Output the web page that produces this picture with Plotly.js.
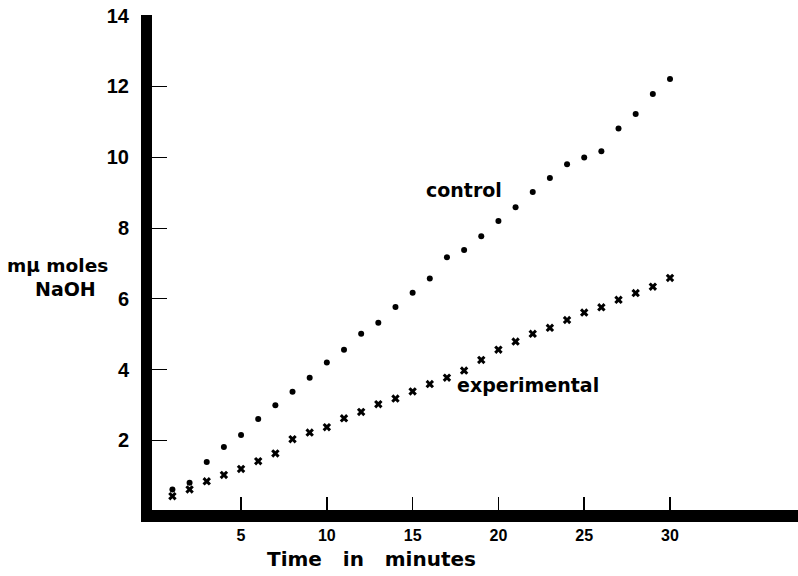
<!DOCTYPE html>
<html>
<head>
<meta charset="utf-8">
<script src="https://cdn.plot.ly/plotly-3.0.1.min.js"></script>
<style>
html, body { margin: 0; padding: 0; background: #fff; }
#chart { width: 798px; height: 576px; }
</style>
</head>
<body>
<div id="chart"></div>
<script>
// Time in minutes
var minutes = [1,2,3,4,5,6,7,8,9,10,11,12,13,14,15,16,17,18,19,20,21,22,23,24,25,26,27,28,29,30];
// m\u03bc moles NaOH
var control = [0.61,0.80,1.39,1.81,2.15,2.60,2.99,3.37,3.77,4.20,4.56,5.01,5.32,5.77,6.17,6.57,7.17,7.38,7.77,8.20,8.59,9.02,9.41,9.80,9.99,10.17,10.81,11.22,11.79,12.21];
var experimental = [0.42,0.61,0.84,1.02,1.19,1.41,1.63,2.03,2.22,2.37,2.62,2.80,3.02,3.18,3.38,3.59,3.77,3.97,4.27,4.56,4.79,5.01,5.18,5.40,5.61,5.76,5.97,6.16,6.34,6.59];
var xTicks = [5,10,15,20,25,30];
var yTicks = [2,4,6,8,10,12,14];

var textFont = {family: 'DejaVu Sans', size: 19, color: '#000', weight: 'bold'};

var traces = [
  {x: minutes, y: control, type: 'scatter', mode: 'markers', name: 'control',
   marker: {symbol: 'circle', size: 6, color: '#000'}},
  {x: minutes, y: experimental, type: 'scatter', mode: 'markers', name: 'experimental',
   marker: {symbol: 'x', size: 7.5, color: '#000'}}
];

var layout = {
  width: 798, height: 576,
  paper_bgcolor: '#fff', plot_bgcolor: '#fff',
  showlegend: false,
  margin: {l: 152, r: 0, t: 15, b: 66},
  xaxis: {
    range: [-0.19, 37.46], showgrid: false, zeroline: false,
    showline: true, linewidth: 12, linecolor: '#000',
    ticks: 'inside', ticklen: 13, tickwidth: 1.5, tickcolor: '#000',
    tickvals: xTicks, ticktext: xTicks.map(String),
    tickfont: {family: 'Liberation Sans', size: 16, color: '#000', weight: 'bold'}
  },
  yaxis: {
    range: [0.03, 14.02], showgrid: false, zeroline: false,
    showline: true, linewidth: 11, linecolor: '#000',
    ticks: 'inside', ticklen: 15, tickwidth: 1, tickcolor: '#000',
    ticklabelstandoff: 8,
    tickvals: yTicks, ticktext: yTicks.map(String),
    tickfont: {family: 'Liberation Sans', size: 20, color: '#000', weight: 'bold'}
  },
  annotations: [
    {text: 'control', x: 17.97, y: 9.07, xref: 'x', yref: 'y', showarrow: false,
     xanchor: 'center', yanchor: 'middle', font: textFont},
    {text: 'experimental', x: 21.7, y: 3.57, xref: 'x', yref: 'y', showarrow: false,
     xanchor: 'center', yanchor: 'middle', font: textFont},
    {text: 'Time\u00a0\u00a0\u00a0in\u00a0\u00a0\u00a0minutes', x: 0.34, y: 559, xref: 'paper', yref: 'paper', showarrow: false,
     xanchor: 'center', yanchor: 'middle', font: {family: 'DejaVu Sans', size: 20, color: '#000', weight: 'bold'}},
    {text: 'm\u03bc moles', x: 57.5, y: 265, xref: 'paper', yref: 'paper', showarrow: false,
     xanchor: 'center', yanchor: 'middle', font: {family: 'DejaVu Sans', size: 18.5, color: '#000', weight: 'bold'}},
    {text: 'NaOH', x: 65, y: 289, xref: 'paper', yref: 'paper', showarrow: false,
     xanchor: 'center', yanchor: 'middle', font: {family: 'DejaVu Sans', size: 19, color: '#000', weight: 'bold'}}
  ]
};

// convert pixel-based paper positions for the outside labels into paper fractions
(function () {
  var L = 152, T = 15, W = 798 - 152, H = 576 - 15 - 66;
  var a = layout.annotations;
  a[2].y = (T + H - 559) / H;
  a[3].x = (57.5 - L) / W; a[3].y = (T + H - 265) / H;
  a[4].x = (65 - L) / W;   a[4].y = (T + H - 289) / H;
})();

Plotly.newPlot('chart', traces, layout, {displayModeBar: false, staticPlot: true});
</script>
</body>
</html>
